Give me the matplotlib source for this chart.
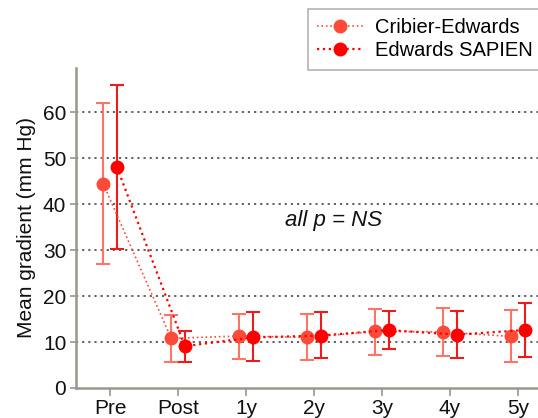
import matplotlib
matplotlib.use("Agg")
import matplotlib.pyplot as plt
import numpy as np

plt.rcParams['font.family'] = ['Liberation Sans', 'DejaVu Sans']

categories = ["Pre", "Post", "1y", "2y", "3y", "4y", "5y"]
ce_mean = [44.4, 10.8, 11.3, 11.0, 12.3, 12.2, 11.2]
ce_upper = [61.9, 15.9, 16.2, 16.2, 17.2, 17.4, 17.0]
ce_lower = [27.0, 5.7, 6.2, 6.1, 7.1, 7.0, 5.7]
sap_mean = [48.1, 9.1, 11.0, 11.4, 12.6, 11.6, 12.6]
sap_upper = [65.9, 12.5, 16.5, 16.5, 16.7, 16.7, 18.5]
sap_lower = [30.2, 5.7, 5.9, 6.5, 8.5, 6.6, 6.8]
yticks = [0, 10, 20, 30, 40, 50, 60]

fig = plt.figure(figsize=(5.38, 4.18), dpi=100)
ax = fig.add_axes([0.1413, 0.0718, 0.8587, 0.7655])

x = np.arange(len(categories))
off = 0.1
ce_col = '#ff4a3a'
ce_err = '#ff7466'
sap_col = '#ff0000'
sap_err = '#f01a1a'

ce_m = np.array(ce_mean); sap_m = np.array(sap_mean)
ce_yerr = [ce_m - np.array(ce_lower), np.array(ce_upper) - ce_m]
sap_yerr = [sap_m - np.array(sap_lower), np.array(sap_upper) - sap_m]

ax.errorbar(x - off, ce_m, yerr=ce_yerr, fmt='none', ecolor=ce_err, elinewidth=1.5,
            capsize=5, capthick=1.5, zorder=3)
ax.errorbar(x + off, sap_m, yerr=sap_yerr, fmt='none', ecolor=sap_err, elinewidth=1.5,
            capsize=5, capthick=1.5, zorder=3)
ax.plot(x - off, ce_m, linestyle=':', color=ce_col, linewidth=1.2, marker='o',
        markersize=9, markerfacecolor=ce_col, markeredgecolor=ce_col,
        label='Cribier-Edwards', zorder=4)
ax.plot(x + off, sap_m, linestyle=':', color=sap_col, linewidth=1.6, marker='o',
        markersize=9, markerfacecolor=sap_col, markeredgecolor=sap_col,
        label='Edwards SAPIEN', zorder=5)

ax.set_xlim(-0.5, 6.294)
ax.set_ylim(0, 69.6)
ax.set_xticks(x)
ax.set_xticklabels(categories)
ax.set_yticks(yticks)
for t in yticks[1:]:
    ax.axhline(t, color='#555555', linestyle=(0, (1.2, 2.2)), linewidth=1.3, zorder=1)

for s in ['top', 'right']:
    ax.spines[s].set_visible(False)
for s in ['left', 'bottom']:
    ax.spines[s].set_color('#9b958e')
    ax.spines[s].set_linewidth(1.8)
ax.tick_params(axis='x', colors='#9b958e', width=1.2, length=6, labelsize=15,
               labelcolor='#111111', pad=2)
ax.tick_params(axis='y', colors='#9b958e', width=1.2, length=4, labelsize=15,
               labelcolor='#111111', pad=3)
ax.set_ylabel('Mean gradient (mm Hg)', fontsize=15, color='#111111', labelpad=5)

ax.text(3.29, 36.5, 'all p = NS', fontsize=16, style='italic', ha='center', va='center',
        color='#111111')

leg = fig.legend(loc='upper left', bbox_to_anchor=(308/538, 1 - 9/418), fontsize=14.5,
                 frameon=True, fancybox=False, edgecolor='#a0a0a0', borderpad=0.45,
                 handlelength=2.3, handletextpad=0.6, labelspacing=0.22,
                 borderaxespad=0)
leg.get_frame().set_linewidth(1.2)

fig.savefig('out.png', dpi=100)
